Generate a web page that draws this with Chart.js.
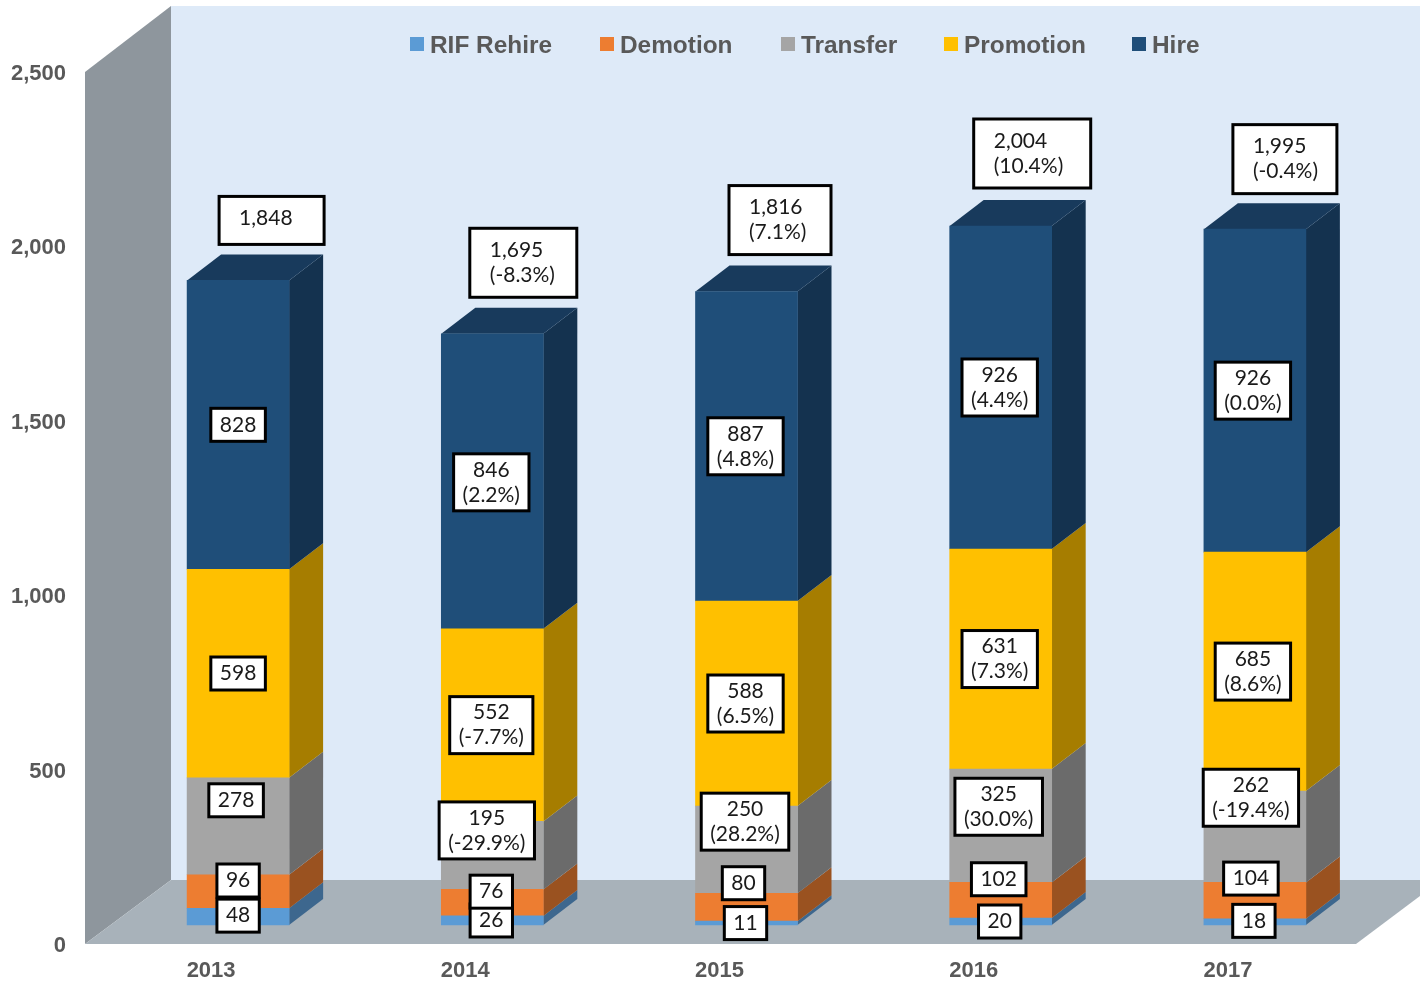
<!DOCTYPE html>
<html><head><meta charset="utf-8">
<style>html,body{margin:0;padding:0;background:#fff}canvas{display:block}</style>
<script src="https://cdn.jsdelivr.net/npm/chart.js@4"></script>
</head><body><canvas id="c" width="1423" height="983"></canvas>
<script>
// ---- data ----
const years = ['2013','2014','2015','2016','2017'];
const rifRehire = [48,26,11,20,18];
const demotion  = [96,76,80,102,104];
const transfer  = [278,195,250,325,262];
const promotion = [598,552,588,631,685];
const hire      = [828,846,887,926,926];
const totals    = [1848,1695,1816,2004,1995];
const transferPct  = ['', '(-29.9%)','(28.2%)','(30.0%)','(-19.4%)'];
const promotionPct = ['', '(-7.7%)','(6.5%)','(7.3%)','(8.6%)'];
const hirePct      = ['', '(2.2%)','(4.8%)','(4.4%)','(0.0%)'];
const totalPct     = ['', '(-8.3%)','(7.1%)','(10.4%)','(-0.4%)'];
const yTicks = [0,500,1000,1500,2000,2500];

// ---- label placement: offset from the segment's centre, [dx,dy] per year ----
const offRif  = [[0,-1],[-1,0],[-1,0],[-1,0],[-1,-1]];
const offDem  = [[0,-11],[-1,-11],[-3,-24],[-2,-21],[-4,-22]];
const offTra  = [[-2,-26],[-5.5,-25],[-1.5,-28],[-2,-19],[-4,-39]];
const offPro  = [[0,0],[-1,0],[-1,0],[-1,0],[-2,0]];
const offHir  = [[0,0],[-1,1],[-1,0],[-1,0],[-2,0]];
// total boxes: centre offset from bar top, and box width
const offTot  = [[33.5,-60],[31,-71],[33.5,-71.5],[31.5,-72.5],[30,-70]];
const totW    = [105,107,102,117,104];
// legend swatch positions
const legendX = [410,600,781,944,1132];

const colors = {
  front:['#5B9BD5','#ED7D31','#A5A5A5','#FFC000','#1F4E79'],
  side: ['#3D678E','#9A5220','#6B6B6B','#A67D00','#14324F'],
  top:  '#183A5C'
};
const depthX=34, depthY=-26, shiftX=26, shiftY=-19;
const FONT='"Liberation Sans", Arial, sans-serif';
const LABELFONT='21px Lato, "Liberation Sans", sans-serif';
const fmt=n=>n.toLocaleString('en-US');

function poly(ctx,pts,fill){ctx.beginPath();pts.forEach((p,i)=>i?ctx.lineTo(p[0],p[1]):ctx.moveTo(p[0],p[1]));ctx.closePath();ctx.fillStyle=fill;ctx.fill();}

function box(ctx,cx,cy,w,h,lines,leftPad){
  ctx.fillStyle='#fff';ctx.fillRect(cx-w/2,cy-h/2,w,h);
  ctx.strokeStyle='#000';ctx.lineWidth=3;ctx.strokeRect(cx-w/2,cy-h/2,w,h);
  ctx.fillStyle='#1a1a1a';ctx.font=LABELFONT;ctx.textBaseline='middle';
  const lh=25, y0=cy-(lines.length-1)*lh/2-(leftPad&&lines.length===1?2:0);
  lines.forEach((t,i)=>{
    if(leftPad){ctx.textAlign='left';ctx.fillText(t,cx-w/2+leftPad,y0+i*lh);}
    else{ctx.textAlign='center';ctx.fillText(t,cx,y0+i*lh);}
  });
}

const scene3d={
  id:'scene3d',
  beforeDatasetsDraw(chart){
    const {ctx,chartArea:a}=chart;
    const L=a.left,R=a.right,T=a.top,B=a.bottom,bx=L+86,bT=T-66,bB=B-64,cR=1420;
    ctx.save();
    // walls
    ctx.fillStyle='#DEEAF8';ctx.fillRect(bx,bT,cR-bx,bB-bT);
    poly(ctx,[[L,T],[bx,bT],[bx,bB],[L,B]],'#8E969D');
    poly(ctx,[[L,B],[bx,bB],[cR,bB],[cR,bB+16],[R,B]],'#A8B2BA');
    // extrusions, shifted with the bars
    ctx.translate(shiftX,shiftY);
    chart.data.datasets.forEach((ds,i)=>{
      chart.getDatasetMeta(i).data.forEach(el=>{
        const xr=el.x+el.width/2,xl=el.x-el.width/2;
        poly(ctx,[[xr,el.y],[xr+depthX,el.y+depthY],[xr+depthX,el.base+depthY],[xr,el.base]],colors.side[i]);
        if(i===chart.data.datasets.length-1)
          poly(ctx,[[xl,el.y],[xl+depthX,el.y+depthY],[xr+depthX,el.y+depthY],[xr,el.y]],colors.top);
      });
    });
  },
  afterDatasetsDraw(chart){
    const {ctx}=chart;
    ctx.restore();
    // data labels
    ctx.save();
    const rows=[[rifRehire,null,offRif],[demotion,null,offDem],[transfer,transferPct,offTra],[promotion,promotionPct,offPro],[hire,hirePct,offHir]];
    rows.forEach((r,i)=>{
      chart.getDatasetMeta(i).data.forEach((el,j)=>{
        const lines=[fmt(r[0][j])];if(r[1]&&r[1][j])lines.push(r[1][j]);
        ctx.font=LABELFONT;
        const tw=Math.max(...lines.map(t=>ctx.measureText(t).width));
        const cx=el.x+shiftX+r[2][j][0],cy=(el.y+el.base)/2+shiftY+r[2][j][1];
        box(ctx,cx,cy,tw+18,lines.length>1?57:33,lines);
      });
    });
    const top=chart.getDatasetMeta(4).data;
    top.forEach((el,j)=>{
      const lines=[fmt(totals[j])];if(totalPct[j])lines.push(totalPct[j]);
      box(ctx,el.x+shiftX+offTot[j][0],el.y+shiftY+offTot[j][1],totW[j],lines.length>1?69:48,lines,20);
    });
    // legend
    const ly=44;
    ctx.textAlign='left';ctx.textBaseline='middle';
    chart.data.datasets.forEach((ds,i)=>{
      const x=legendX[i];
      ctx.fillStyle=colors.front[i];ctx.fillRect(x,ly-7,14,14);
      ctx.fillStyle='#595959';ctx.font='bold 24.4px '+FONT;
      ctx.fillText(ds.label,x+20,ly+2);
    });
    ctx.restore();
  }
};

const mk=(label,data,i)=>({label,data,backgroundColor:colors.front[i],borderWidth:0,barThickness:102,clip:false});
new Chart(document.getElementById('c'),{
  type:'bar',
  data:{labels:years,datasets:[
    mk('RIF Rehire',rifRehire,0),mk('Demotion',demotion,1),mk('Transfer',transfer,2),
    mk('Promotion',promotion,3),mk('Hire',hire,4)]},
  options:{
    responsive:false,animation:false,
    layout:{padding:{top:72,right:67,left:0,bottom:0}},
    plugins:{legend:{display:false},tooltip:{enabled:false},title:{display:false}},
    scales:{
      x:{stacked:true,grid:{display:false,drawTicks:false},border:{display:false},
        ticks:{color:'#595959',font:{family:FONT,size:22,weight:'bold'},padding:14,maxRotation:0,labelOffset:-1},
        afterFit(s){s.height=39;}},
      y:{stacked:true,min:0,max:2500,grid:{display:false,drawTicks:false},border:{display:false},
        afterBuildTicks(s){s.ticks=yTicks.map(v=>({value:v}));},
        ticks:{color:'#595959',font:{family:FONT,size:22,weight:'bold'},padding:19,labelOffset:2,
          callback:v=>fmt(v)},
        afterFit(s){s.width=85;}}
    }
  },
  plugins:[scene3d]
});
</script></body></html>
